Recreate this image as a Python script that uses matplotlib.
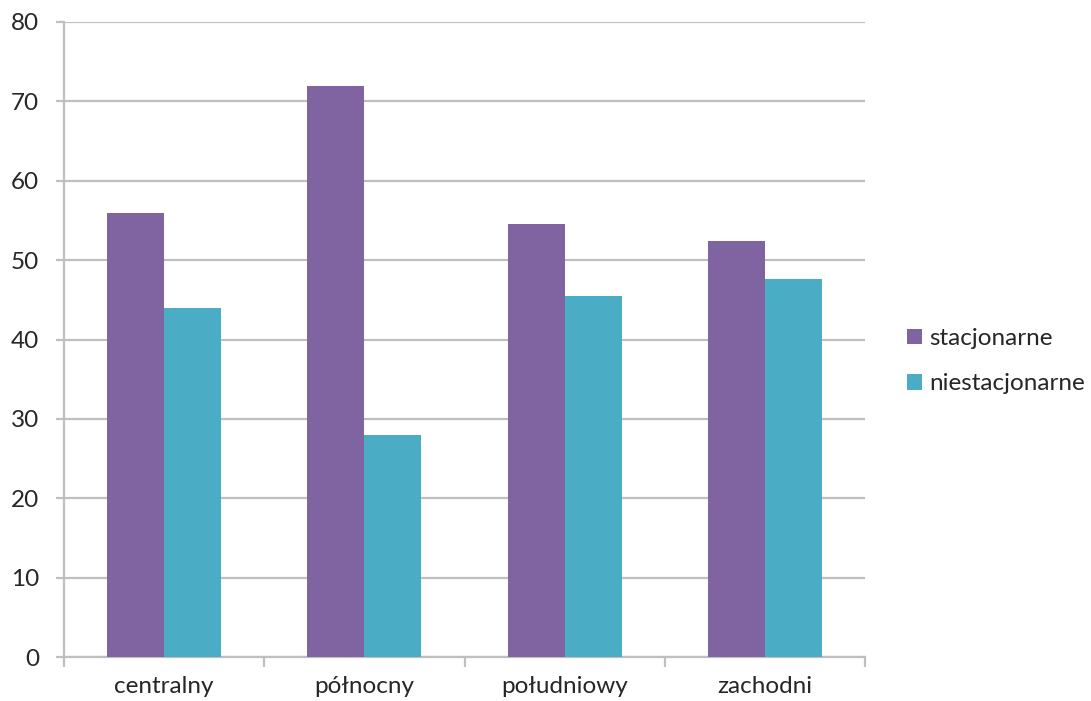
import matplotlib
matplotlib.use("Agg")
import matplotlib.pyplot as plt
import numpy as np

plt.rcParams['font.family'] = ['Lato', 'DejaVu Sans']

categories = ["centralny", "północny", "południowy", "zachodni"]
series_names = ["stacjonarne", "niestacjonarne"]
stacjonarne = [56.0, 72.0, 54.5, 52.4]
niestacjonarne = [44.0, 28.0, 45.5, 47.6]
y_ticks = [0, 10, 20, 30, 40, 50, 60, 70, 80]

colors = ["#8064A2", "#4BACC6"]
grid_color = "#BFBFBF"
text_color = "#262626"
fs = 17.5

fig = plt.figure(figsize=(10.91, 7.01), dpi=100)
ax = fig.add_axes([64 / 1091, 44 / 701, (865 - 64) / 1091, (657 - 22) / 701])

x = np.arange(len(categories))
w = 0.285
ax.bar(x - w / 2, stacjonarne, width=w, color=colors[0], label=series_names[0], zorder=3)
ax.bar(x + w / 2, niestacjonarne, width=w, color=colors[1], label=series_names[1], zorder=3)

ax.set_xlim(-0.5, len(categories) - 0.5)
ax.set_ylim(0, 80)
ax.set_yticks(y_ticks)
ax.yaxis.grid(True, color=grid_color, linewidth=1.6, zorder=0)

for side in ("top", "right"):
    ax.spines[side].set_visible(False)
for side in ("left", "bottom"):
    ax.spines[side].set_color(grid_color)
    ax.spines[side].set_linewidth(1.6)

ax.set_xticks(x)
ax.set_xticklabels(categories, fontsize=fs, color=text_color)
ax.set_xticks(np.arange(-0.5, len(categories)), minor=True)
ax.tick_params(axis="x", which="major", length=0, pad=14)
ax.tick_params(axis="x", which="minor", length=7, width=1.6, color=grid_color, direction="out")
ax.tick_params(axis="y", length=6, width=1.6, color=grid_color, pad=12, labelsize=fs, labelcolor=text_color)

leg = ax.legend(loc="center left", bbox_to_anchor=(1.025, 0.466), frameon=False,
                fontsize=fs, handlelength=0.62, handleheight=0.62, handletextpad=0.3,
                labelspacing=1.0)
for t in leg.get_texts():
    t.set_color(text_color)

fig.savefig("out.png", dpi=100)
